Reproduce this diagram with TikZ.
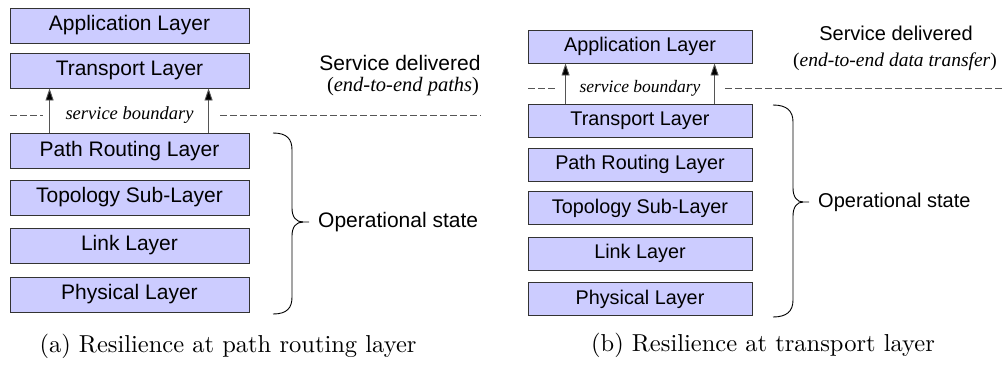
\documentclass[tikz,border=0pt]{standalone}
\usepackage{fontspec}
\setmainfont{Latin Modern Roman}
\newfontfamily\captionface{lmroman10-regular}[Extension=.otf]
\newfontfamily\arialike{Liberation Sans}
\newfontfamily\timeslike{Liberation Serif}
\usetikzlibrary{arrows.meta,calc}
\definecolor{layerfill}{HTML}{CCCCFF}
\definecolor{layerline}{HTML}{333333}
\definecolor{shaft}{HTML}{555555}
\begin{document}
\begin{tikzpicture}[x=1pt,y=-1pt,
  layera/.style={draw=layerline,fill=layerfill,line width=0.9pt,minimum width=239pt,minimum height=35pt,inner sep=0pt,font=\arialike\fontsize{21}{24}\selectfont},
  layerb/.style={draw=layerline,fill=layerfill,line width=0.9pt,minimum width=224pt,minimum height=33pt,inner sep=0pt,font=\arialike\fontsize{19.8}{23}\selectfont},
  upar/.style={draw=shaft,line width=0.9pt,-{Triangle[length=12pt,width=8pt,fill=black]}},
  bound/.style={draw=shaft,line width=0.8pt,dash pattern=on 7pt off 3pt},
  sbtext/.style={font=\timeslike\itshape\fontsize{18.5}{22}\selectfont,inner sep=0pt},
  sans/.style={font=\arialike\fontsize{21}{24}\selectfont,inner sep=0pt},
  ital/.style={font=\timeslike\fontsize{20.5}{24}\selectfont,inner sep=0pt},
  bracel/.style={draw=black,line width=0.9pt},
  capt/.style={font=\captionface\fontsize{24.5}{28}\selectfont,inner sep=0pt}]
\useasboundingbox (0,0) rectangle (1003,373);

% ---------- (a) resilience at path routing layer ----------
\node[layera] (aa) at (129.5,25.5) {Application Layer};
\node[layera] (ta) at (129.5,70.5) {Transport Layer};
\node[layera] (pa) at (129.5,151) {Path Routing Layer};
\node[layera] (sa) at (129.5,197.5) {Topology Sub-Layer};
\node[layera] (la) at (129.5,245.5) {Link Layer};
\node[layera] (ya) at (129.5,294.5) {Physical Layer};

\draw[upar] ([xshift=40pt]pa.north west) -- ([xshift=40pt]ta.south west);
\draw[upar] ([xshift=199pt]pa.north west) -- ([xshift=199pt]ta.south west);

\coordinate (ba1) at (10,115);
\coordinate (ba2) at (43,115);
\coordinate (ba3) at (220,115);
\coordinate (ba4) at (481,115);
\draw[bound] (ba1) -- (ba2);
\draw[bound] (ba3) -- (ba4);
\node[sbtext] (sba) at (129.5,115) {service boundary};

\node[sans] (sda) at (400,63) {Service delivered};
\node[ital] (eda) at (403,87) {(\textit{end-to-end paths})};

\draw[bracel] (273,133) .. controls (287,133) and (292,139) .. (292,150)
  -- (292,208) .. controls (292,217) and (296,222) .. (303,222) -- (309,222);
\draw[bracel] (303,222) .. controls (296,222) and (292,227) .. (292,236)
  -- (292,297) .. controls (292,308) and (287,314) .. (273,314);
\node[sans,anchor=west] (osa) at (318,222) {Operational state};

\node[capt] (capa) at (228,346) {(a) Resilience at path routing layer};

% ---------- (b) resilience at transport layer ----------
\node[layerb] (ab) at (640,46.5) {Application Layer};
\node[layerb] (tb) at (640,121) {Transport Layer};
\node[layerb] (pb) at (640,164.5) {Path Routing Layer};
\node[layerb] (sb) at (640,208) {Topology Sub-Layer};
\node[layerb] (lb) at (640,253.5) {Link Layer};
\node[layerb] (yb) at (640,299) {Physical Layer};

\draw[upar] ([xshift=38pt]tb.north west) -- ([xshift=38pt]ab.south west);
\draw[upar] ([xshift=187pt]tb.north west) -- ([xshift=187pt]ab.south west);

\coordinate (bb1) at (528,88);
\coordinate (bb2) at (557,88);
\coordinate (bb3) at (725,88);
\coordinate (bb4) at (1003,88);
\draw[bound] (bb1) -- (bb2);
\draw[bound] (bb3) -- (bb4);
\node[sbtext,font=\timeslike\itshape\fontsize{17.5}{21}\selectfont] (sbb) at (640,88) {service boundary};

\node[sans,font=\arialike\fontsize{20}{23}\selectfont] (sdb) at (896,33) {Service delivered};
\node[ital,font=\timeslike\fontsize{19.5}{23}\selectfont] (edb) at (895,62) {(\textit{end-to-end data transfer})};

\draw[bracel] (773,105) .. controls (787,105) and (793,111) .. (793,122)
  -- (793,188) .. controls (793,197) and (797,202) .. (803,202) -- (809,202);
\draw[bracel] (803,202) .. controls (797,202) and (793,207) .. (793,216)
  -- (793,300) .. controls (793,311) and (787,317) .. (773,317);
\node[sans,font=\arialike\fontsize{20}{23}\selectfont,anchor=west] (osb) at (818,202) {Operational state};

\node[capt] (capb) at (763,345) {(b) Resilience at transport layer};
\end{tikzpicture}
\end{document}
